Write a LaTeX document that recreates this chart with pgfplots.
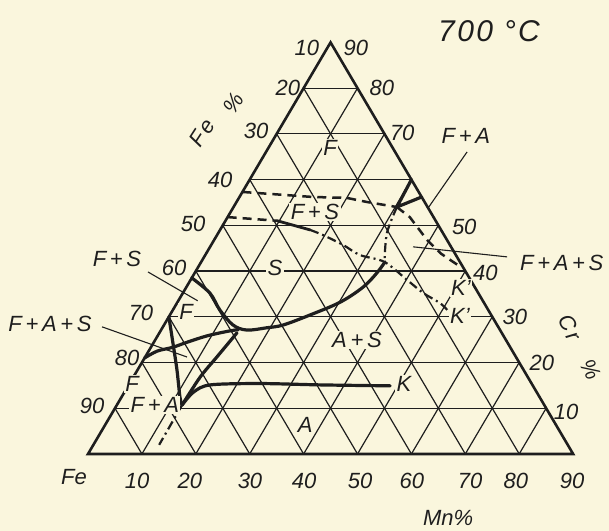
\documentclass[border=0pt]{standalone}
\usepackage{fontspec}
\setmainfont{Liberation Sans}
\usepackage{pgfplots}
\usepackage{pgfplotstable}
\pgfplotsset{compat=1.18}

\definecolor{paper}{RGB}{250,246,221}
\definecolor{ink}{RGB}{30,30,30}

\tikzset{
  grid line/.style={ink, line width=1.2pt},
  edge/.style={ink, line width=2.6pt, line join=miter},
  bnd/.style={ink, line width=3.2pt, line join=round, line cap=round},
  dsh/.style={ink, line width=2.5pt, dash pattern=on 9pt off 6pt},
  dshdot/.style={ink, line width=2.2pt, dash pattern=on 9pt off 4pt on 2pt off 4pt},
  lead/.style={ink, line width=1.1pt},
  num/.style={text=ink, font=\fontsize{22}{22}\selectfont\itshape, inner sep=0pt},
  side/.style={text=ink, font=\fontsize{22}{22}\selectfont\itshape\addfontfeature{LetterSpace=12}, inner sep=0pt},
  lab/.style={text=ink, font=\fontsize{22}{22}\selectfont\itshape, fill=paper, inner sep=1.5pt},
}

% (Mn, Cr) composition -> position in the triangle
\newcommand{\tc}[2]{(axis cs:{(#1)+0.5*(#2)},{0.8660254*(#2)})}
\pgfplotsset{/pgfplots/table/tern/.style={x expr=\thisrow{m}+0.5*\thisrow{c}, y expr=0.8660254*\thisrow{c}}}

% phase boundaries, columns: Mn %, Cr %
\pgfplotstableread{
m c
0 38.5
5.0 35.2
8.7 31.5
12.8 28.2
15.9 27.1
19.4 27.6
22.1 28.2
26.0 30.4
30.2 33.2
32.8 36.5
33.8 39.6
34.1 42.0
}\Sbound
\pgfplotstableread{
m c
0 21.0
1.6 22.5
4.0 23.3
6.1 24.4
9.1 25.8
12.4 26.8
14.3 27.2
}\Fbound
\pgfplotstableread{
m c
0 30
3.6 24.3
7.3 18.4
10.8 12.5
12.1 10.7
}\FAleft
\pgfplotstableread{
m c
12.1 10.7
12.4 16.8
13.3 21.2
14.4 26.5
}\Abound
\pgfplotstableread{
m c
12.1 10.7
12.8 13.5
15.1 15.1
24.2 15.4
35.7 15.1
48.6 14.9
}\Kline
\pgfplotstableread{
m c
12.1 10.7
12.2 2
}\Abelow
\pgfplotstableread{
m c
0 57.3
13.6 56.2
20.0 56.0
24.2 55.1
30.3 54.0
}\FSupper
\pgfplotstableread{
m c
0 51.8
9.6 51.0
}\SupperA
\pgfplotstableread{
m c
9.6 51.0
16.7 49.0
}\SupperB
\pgfplotstableread{
m c
16.7 49.0
19.6 47.9
24.5 45.7
28.7 43.5
34.0 42.0
40.1 38.1
44.6 35.2
48.8 33.0
50.9 31.5
}\SupperC
\pgfplotstableread{
m c
30.3 54.0
31.3 48.3
34.0 42.0
}\Vdown
\pgfplotstableread{
m c
30.3 54.0
33.8 51.8
39.5 46.8
43.6 43.8
48.5 41.0
}\Kupper
\pgfplotstableread{
m c
30.0 60.0
30.3 54.0
33.8 56.2
}\FAwedge

\begin{document}
\begin{tikzpicture}
\begin{axis}[
  x=5.39pt, y=5.28pt,
  xmin=-16.33, xmax=96.66, ymin=-14.58, ymax=85.98,
  hide axis, clip=false,
]
\fill[paper] (rel axis cs:0,0) rectangle (rel axis cs:1,1);

% 10 % grid
\pgfplotsinvokeforeach{10,20,30,40,50,60,70,80}{
  \draw[grid line] \tc{0}{#1} -- \tc{90-#1}{#1};
  \draw[grid line] \tc{#1}{0} -- \tc{#1}{90-#1};
  \draw[grid line] \tc{#1}{0} -- \tc{0}{#1};
}
\draw[edge] \tc{0}{0} -- \tc{90}{0} -- \tc{0}{90} -- cycle;

% phase boundaries
\addplot[bnd, smooth, tension=0.55] table[tern] {\Sbound};
\addplot[bnd, smooth, tension=0.55] table[tern] {\Fbound};
\addplot[bnd, smooth, tension=0.5] table[tern] {\FAleft};
\addplot[bnd, smooth, tension=0.5] table[tern] {\Abound};
\addplot[bnd, smooth, tension=0.5] table[tern] {\Kline};
\addplot[dshdot] table[tern] {\Abelow};
\addplot[dsh] table[tern] {\FSupper};
\addplot[dsh] table[tern] {\SupperA};
\addplot[bnd, line width=2.8pt] table[tern] {\SupperB};
\addplot[dshdot, smooth] table[tern] {\SupperC};
\addplot[dshdot, smooth] table[tern] {\Vdown};
\addplot[dsh] table[tern] {\Kupper};
\addplot[bnd] table[tern] {\FAwedge};

% leaders
\draw[lead] \tc{37.3}{66.05} -- \tc{36.2}{53.8};
\draw[lead] \tc{56.2}{43.1} -- \tc{37.65}{45.3};
\draw[lead] \tc{-8.77}{39.8} -- \tc{3.6}{33.5};
\draw[lead] \tc{-11.3}{27.8} -- \tc{7.77}{21.2};

% Fe % along the left side
\node[num] at (axis cs:40.6,76.9) {10};
\node[num] at (axis cs:37.1,69.3) {20};
\node[num] at (axis cs:31.2,61.2) {30};
\node[num] at (axis cs:24.5,51.9) {40};
\node[num] at (axis cs:19.5,43.6) {50};
\node[num] at (axis cs:15.96,35.2) {60};
\node[num] at (axis cs:9.83,26.7) {70};
\node[num] at (axis cs:7.24,18.2) {80};
\node[num] at (axis cs:0.74,9.1) {90};
% Cr % along the right side
\node[num] at (axis cs:49.7,76.9) {90};
\node[num] at (axis cs:54.5,69.3) {80};
\node[num] at (axis cs:58.3,60.8) {70};
\node[num] at (axis cs:69.8,43.0) {50};
\node[num] at (axis cs:73.7,34.3) {40};
\node[num] at (axis cs:79.2,25.9) {30};
\node[num] at (axis cs:84.2,17.2) {20};
\node[num] at (axis cs:88.7,8.0) {10};
% Mn % along the base
\node[num] at (axis cs:-2.6,-4.4) {Fe};
\node[num] at (axis cs:9.1,-5.1) {10};
\node[num] at (axis cs:18.9,-5.1) {20};
\node[num] at (axis cs:30.05,-5.1) {30};
\node[num] at (axis cs:40.1,-5.1) {40};
\node[num] at (axis cs:50.5,-5.1) {50};
\node[num] at (axis cs:60.1,-5.1) {60};
\node[num] at (axis cs:70.9,-5.1) {70};
\node[num] at (axis cs:79.4,-5.1) {80};
\node[num] at (axis cs:89.8,-5.1) {90};
\node[num] at (axis cs:66.8,-12.1) {Mn\%};
% axis names along the sides
\node[side, rotate=57] at (axis cs:21.15,60.8) {Fe};
\node[side, rotate=57] at (axis cs:26.9,66.4) {\%};
\node[side, rotate=-62] at (axis cs:89.4,23.9) {Cr};
\node[side, rotate=-62] at (axis cs:93.2,16.0) {\%};
\node[num, font=\fontsize{30}{30}\selectfont\itshape\addfontfeature{LetterSpace=8}] at (axis cs:74.4,80.1) {700 °C};

% phase fields
\node[lab] at (axis cs:44.9,57.95) {F};
\node[lab] at (axis cs:42.1,45.8) {F\,+\,S};
\node[lab] at (axis cs:34.7,35.2) {S};
\node[lab] at (axis cs:49.9,21.6) {A\,+\,S};
\node[lab] at (axis cs:40.3,5.5) {A};
\node[lab] at (axis cs:58.6,13.3) {K};
\node[lab] at (axis cs:69.2,31.4) {K'};
\node[lab] at (axis cs:69.0,26.1) {K'};
\node[lab] at (axis cs:18.2,26.9) {F};
\node[lab] at (axis cs:8.2,13.2) {F};
\node[lab] at (axis cs:12.4,9.3) {F\,+\,A};
\node[num] at (axis cs:70.1,60.2) {F\,+\,A};
\node[num, anchor=west] at (axis cs:80.15,36.2) {F\,+\,A\,+\,S};
\node[num] at (axis cs:5.38,36.9) {F\,+\,S};
\node[num] at (axis cs:-7.05,24.6) {F\,+\,A\,+\,S};
\end{axis}
\end{tikzpicture}
\end{document}
